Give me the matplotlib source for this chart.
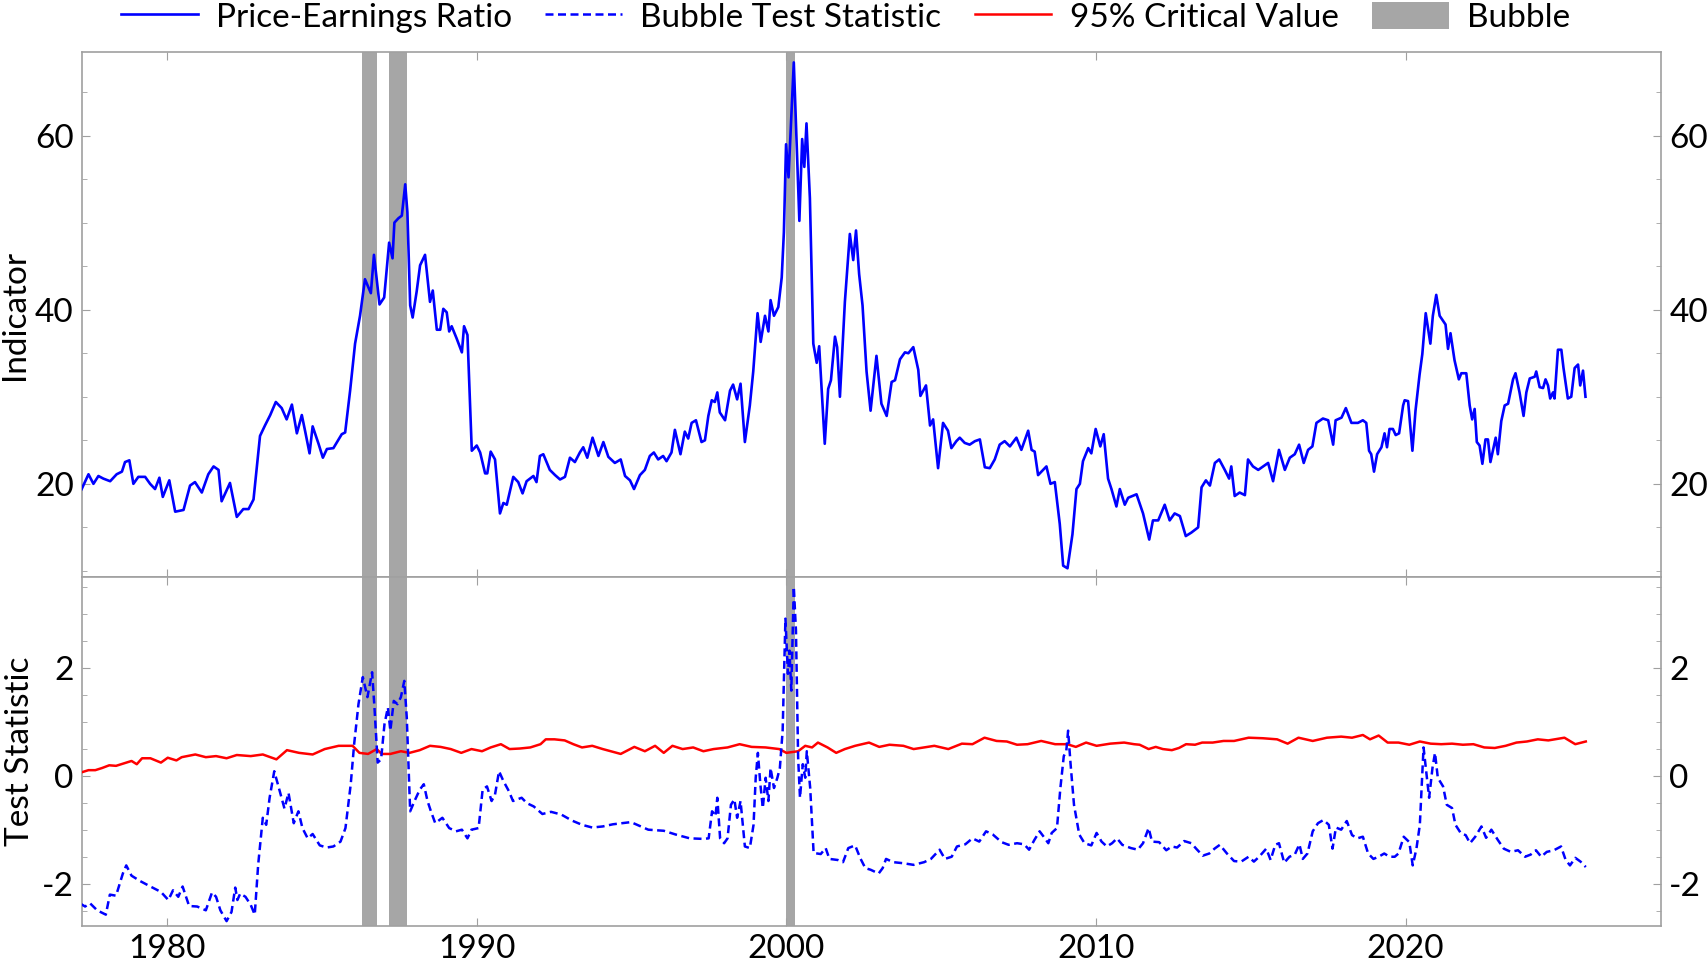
import matplotlib
matplotlib.use("Agg")
import matplotlib.pyplot as plt
from matplotlib.lines import Line2D
from matplotlib.patches import Patch
from matplotlib.ticker import MultipleLocator

plt.rcParams['font.family'] = ['Lato', 'DejaVu Sans']
plt.rcParams['axes.unicode_minus'] = False

# bubble periods (decimal years)
bubble_start = [1986.28, 1987.17, 2000.00]
bubble_end = [1986.77, 1987.76, 2000.27]

# price-earnings ratio, (year, value)
pe_points = [
    (1977.24, 19.4), (1977.46, 21.1), (1977.62, 20.0), (1977.78, 20.9), (1977.94, 20.6), (1978.16, 20.3),
    (1978.37, 21.1), (1978.54, 21.4), (1978.64, 22.5), (1978.78, 22.7), (1978.91, 20.0), (1979.07, 20.8),
    (1979.29, 20.8), (1979.45, 20.0), (1979.61, 19.4), (1979.75, 20.7), (1979.86, 18.5), (1980.07, 20.4),
    (1980.26, 16.8), (1980.53, 17.0), (1980.74, 19.8), (1980.90, 20.2), (1981.12, 19.0), (1981.33, 21.1),
    (1981.50, 22.0), (1981.66, 21.6), (1981.76, 18.0), (1982.03, 20.1), (1982.25, 16.2), (1982.46, 17.1),
    (1982.63, 17.1), (1982.79, 18.2), (1983.00, 25.5), (1983.16, 26.7), (1983.33, 27.9), (1983.51, 29.4),
    (1983.70, 28.7), (1983.86, 27.4), (1984.03, 29.1), (1984.19, 25.8), (1984.35, 27.9), (1984.46, 26.0),
    (1984.60, 23.5), (1984.70, 26.6), (1984.89, 24.6), (1985.03, 23.0), (1985.16, 24.0), (1985.37, 24.1),
    (1985.64, 25.7), (1985.75, 25.9), (1985.91, 30.7), (1986.07, 36.1), (1986.23, 39.3), (1986.39, 43.5),
    (1986.58, 41.9), (1986.68, 46.3), (1986.86, 40.6), (1987.01, 41.4), (1987.17, 47.7), (1987.28, 45.9),
    (1987.34, 50.0), (1987.47, 50.5), (1987.58, 50.8), (1987.69, 54.4), (1987.76, 51.2), (1987.85, 40.5),
    (1987.93, 39.1), (1988.06, 42.1), (1988.17, 45.1), (1988.33, 46.3), (1988.49, 40.9), (1988.58, 42.2),
    (1988.71, 37.7), (1988.82, 37.7), (1988.92, 40.1), (1989.03, 39.7), (1989.11, 37.5), (1989.19, 38.1),
    (1989.35, 36.7), (1989.52, 35.1), (1989.59, 38.1), (1989.70, 37.1), (1989.84, 23.8), (1990.00, 24.4),
    (1990.11, 23.6), (1990.27, 21.2), (1990.34, 21.2), (1990.45, 23.7), (1990.59, 22.8), (1990.75, 16.6),
    (1990.86, 17.8), (1990.97, 17.6), (1991.18, 20.8), (1991.34, 20.2), (1991.48, 18.9), (1991.61, 20.3),
    (1991.83, 20.9), (1991.93, 20.2), (1992.04, 23.2), (1992.15, 23.4), (1992.36, 21.6), (1992.53, 21.0),
    (1992.69, 20.5), (1992.85, 20.8), (1993.01, 23.0), (1993.17, 22.5), (1993.33, 23.6), (1993.44, 24.2),
    (1993.57, 23.0), (1993.74, 25.3), (1993.93, 23.2), (1994.09, 24.8), (1994.25, 23.1), (1994.46, 22.4),
    (1994.65, 22.8), (1994.79, 20.9), (1994.95, 20.4), (1995.08, 19.4), (1995.27, 21.0), (1995.43, 21.6),
    (1995.59, 23.2), (1995.72, 23.6), (1995.86, 22.8), (1996.02, 23.2), (1996.13, 22.6), (1996.29, 23.6),
    (1996.40, 26.2), (1996.58, 23.4), (1996.72, 26.0), (1996.83, 25.2), (1996.94, 27.0), (1997.08, 27.3),
    (1997.26, 24.8), (1997.37, 25.0), (1997.48, 27.8), (1997.59, 29.6), (1997.69, 29.4), (1997.77, 30.5),
    (1997.85, 28.2), (1998.02, 27.3), (1998.18, 30.7), (1998.28, 31.4), (1998.41, 29.7), (1998.52, 31.5),
    (1998.66, 24.8), (1998.82, 29.0), (1998.93, 32.9), (1999.07, 39.6), (1999.17, 36.3), (1999.31, 39.3),
    (1999.42, 37.5), (1999.49, 41.1), (1999.60, 39.3), (1999.74, 40.3), (1999.85, 43.7), (1999.92, 48.9),
    (1999.99, 59.0), (2000.07, 55.2), (2000.24, 68.4), (2000.42, 50.2), (2000.51, 59.6), (2000.58, 56.4),
    (2000.65, 61.4), (2000.76, 52.8), (2000.87, 36.1), (2000.98, 33.9), (2001.06, 35.8), (2001.24, 24.6),
    (2001.35, 30.9), (2001.44, 31.9), (2001.57, 36.9), (2001.64, 35.7), (2001.73, 30.0), (2001.89, 40.9),
    (2002.05, 48.7), (2002.16, 45.7), (2002.25, 49.1), (2002.35, 44.1), (2002.46, 40.5), (2002.59, 32.9),
    (2002.72, 28.4), (2002.91, 34.7), (2003.07, 29.2), (2003.24, 27.8), (2003.40, 31.7), (2003.51, 31.9),
    (2003.67, 34.3), (2003.83, 35.1), (2003.94, 35.0), (2004.10, 35.7), (2004.26, 33.1), (2004.33, 30.1),
    (2004.51, 31.3), (2004.64, 26.7), (2004.74, 27.4), (2004.90, 21.8), (2005.06, 27.0), (2005.22, 26.1),
    (2005.33, 24.1), (2005.49, 24.9), (2005.60, 25.3), (2005.76, 24.7), (2005.92, 24.5), (2006.09, 24.9),
    (2006.25, 25.1), (2006.41, 21.9), (2006.57, 21.8), (2006.73, 22.8), (2006.89, 24.5), (2007.05, 24.9),
    (2007.22, 24.3), (2007.43, 25.3), (2007.59, 23.9), (2007.81, 26.1), (2007.92, 23.9), (2008.02, 23.7),
    (2008.13, 21.0), (2008.29, 21.6), (2008.40, 22.0), (2008.53, 20.0), (2008.67, 20.2), (2008.83, 15.4),
    (2008.94, 10.6), (2009.08, 10.3), (2009.24, 14.2), (2009.37, 19.4), (2009.48, 20.0), (2009.58, 22.6),
    (2009.75, 24.1), (2009.85, 23.5), (2009.99, 26.3), (2010.14, 24.3), (2010.25, 25.7), (2010.39, 20.6),
    (2010.50, 19.4), (2010.66, 17.4), (2010.77, 19.4), (2010.93, 17.6), (2011.04, 18.4), (2011.31, 18.8),
    (2011.52, 16.6), (2011.72, 13.6), (2011.84, 15.8), (2012.01, 15.8), (2012.22, 17.6), (2012.38, 15.8),
    (2012.54, 16.6), (2012.71, 16.3), (2012.90, 14.0), (2013.08, 14.4), (2013.30, 15.0), (2013.41, 19.6),
    (2013.55, 20.4), (2013.68, 19.8), (2013.84, 22.4), (2013.98, 22.8), (2014.16, 21.6), (2014.30, 20.6),
    (2014.37, 22.0), (2014.48, 18.6), (2014.64, 19.0), (2014.81, 18.7), (2014.91, 22.8), (2015.07, 22.0),
    (2015.24, 21.6), (2015.40, 22.0), (2015.56, 22.4), (2015.72, 20.3), (2015.91, 23.9), (2016.10, 21.6),
    (2016.26, 23.0), (2016.42, 23.4), (2016.56, 24.5), (2016.71, 22.4), (2016.85, 23.9), (2016.99, 24.3),
    (2017.12, 27.0), (2017.33, 27.5), (2017.50, 27.3), (2017.66, 24.5), (2017.74, 27.3), (2017.93, 27.6),
    (2018.07, 28.7), (2018.25, 27.0), (2018.46, 27.0), (2018.62, 27.3), (2018.73, 27.0), (2018.82, 23.8),
    (2018.89, 23.4), (2018.98, 21.4), (2019.08, 23.4), (2019.22, 24.2), (2019.32, 25.8), (2019.40, 24.2),
    (2019.48, 26.3), (2019.59, 26.3), (2019.68, 25.6), (2019.79, 25.8), (2019.92, 29.0), (2019.97, 29.6),
    (2020.08, 29.5), (2020.22, 23.8), (2020.32, 28.4), (2020.45, 32.5), (2020.54, 34.9), (2020.65, 39.6),
    (2020.80, 36.1), (2020.88, 39.3), (2020.99, 41.7), (2021.10, 39.3), (2021.29, 38.3), (2021.37, 35.5),
    (2021.45, 37.3), (2021.58, 34.2), (2021.72, 32.0), (2021.80, 32.7), (2021.96, 32.7), (2022.07, 29.0),
    (2022.15, 27.4), (2022.23, 28.6), (2022.30, 24.8), (2022.39, 24.4), (2022.48, 22.3), (2022.58, 25.1),
    (2022.66, 25.1), (2022.74, 22.5), (2022.91, 25.3), (2022.98, 23.4), (2023.09, 27.2), (2023.20, 29.0),
    (2023.31, 29.2), (2023.47, 32.0), (2023.55, 32.7), (2023.68, 30.5), (2023.81, 27.8), (2023.90, 30.5),
    (2024.01, 32.1), (2024.17, 32.3), (2024.22, 32.9), (2024.33, 31.1), (2024.44, 31.0), (2024.52, 32.0),
    (2024.60, 31.3), (2024.67, 29.8), (2024.76, 30.5), (2024.81, 29.8), (2024.92, 35.4), (2025.03, 35.4),
    (2025.10, 33.3), (2025.24, 29.8), (2025.35, 30.0), (2025.46, 33.3), (2025.57, 33.7), (2025.64, 31.3),
    (2025.73, 33.0), (2025.81, 30.0),
]

# bubble test statistic
stat_points = [
    (1977.18, -2.35), (1977.35, -2.41), (1977.51, -2.35), (1977.74, -2.48), (1978.02, -2.56), (1978.15, -2.19),
    (1978.35, -2.21), (1978.57, -1.80), (1978.68, -1.65), (1978.85, -1.84), (1979.13, -1.94), (1979.46, -2.04),
    (1979.80, -2.14), (1980.04, -2.29), (1980.19, -2.11), (1980.36, -2.23), (1980.50, -2.04), (1980.71, -2.40),
    (1980.97, -2.41), (1981.25, -2.48), (1981.45, -2.15), (1981.58, -2.23), (1981.72, -2.48), (1981.92, -2.68),
    (1982.08, -2.51), (1982.20, -2.06), (1982.27, -2.29), (1982.36, -2.17), (1982.53, -2.23), (1982.70, -2.38),
    (1982.83, -2.56), (1982.94, -1.64), (1983.09, -0.77), (1983.20, -0.90), (1983.31, -0.40), (1983.46, 0.09),
    (1983.61, -0.22), (1983.79, -0.60), (1983.92, -0.31), (1984.09, -0.87), (1984.24, -0.65), (1984.37, -0.96),
    (1984.54, -1.15), (1984.70, -1.07), (1984.93, -1.28), (1985.15, -1.32), (1985.37, -1.30), (1985.60, -1.21),
    (1985.76, -0.96), (1985.93, -0.15), (1986.04, 0.59), (1986.18, 1.33), (1986.32, 1.83), (1986.47, 1.46),
    (1986.54, 1.67), (1986.62, 1.92), (1986.69, 1.33), (1986.80, 0.25), (1986.91, 0.31), (1987.02, 0.96),
    (1987.13, 1.27), (1987.21, 0.84), (1987.32, 1.39), (1987.44, 1.33), (1987.55, 1.46), (1987.66, 1.76),
    (1987.74, 1.08), (1987.85, -0.65), (1987.99, -0.46), (1988.16, -0.25), (1988.29, -0.15), (1988.41, -0.46),
    (1988.52, -0.65), (1988.66, -0.87), (1988.89, -0.77), (1989.11, -0.96), (1989.33, -1.02), (1989.52, -0.99),
    (1989.70, -1.15), (1989.83, -0.99), (1990.06, -0.96), (1990.19, -0.25), (1990.33, -0.19), (1990.48, -0.46),
    (1990.59, -0.34), (1990.72, 0.09), (1990.86, -0.09), (1991.04, -0.28), (1991.17, -0.46), (1991.45, -0.40),
    (1991.62, -0.50), (1991.84, -0.56), (1992.12, -0.70), (1992.40, -0.66), (1992.73, -0.71), (1993.07, -0.82),
    (1993.40, -0.90), (1993.73, -0.95), (1994.07, -0.93), (1994.40, -0.89), (1994.98, -0.85), (1995.54, -0.99),
    (1996.04, -1.01), (1996.43, -1.08), (1996.88, -1.15), (1997.32, -1.16), (1997.49, -1.15), (1997.60, -0.65),
    (1997.71, -0.74), (1997.77, -0.40), (1997.86, -1.15), (1997.99, -1.24), (1998.10, -1.15), (1998.21, -0.53),
    (1998.32, -0.43), (1998.41, -0.77), (1998.52, -0.46), (1998.66, -1.30), (1998.82, -1.33), (1998.94, -0.90),
    (1999.01, -0.03), (1999.08, 0.43), (1999.16, -0.15), (1999.24, -0.59), (1999.33, -0.03), (1999.42, -0.46),
    (1999.49, 0.15), (1999.60, -0.22), (1999.71, -0.03), (1999.79, 0.15), (1999.88, 0.84), (1999.97, 2.91),
    (2000.05, 1.89), (2000.10, 2.32), (2000.16, 1.58), (2000.24, 3.50), (2000.31, 2.69), (2000.38, 0.34),
    (2000.44, -0.40), (2000.53, 0.22), (2000.61, -0.03), (2000.66, 0.46), (2000.77, -0.22), (2000.88, -1.42),
    (2001.11, -1.44), (2001.27, -1.33), (2001.39, -1.53), (2001.66, -1.55), (2001.83, -1.59), (2002.00, -1.33),
    (2002.22, -1.28), (2002.39, -1.52), (2002.55, -1.70), (2002.72, -1.73), (2002.98, -1.80), (2003.11, -1.70),
    (2003.22, -1.53), (2003.45, -1.59), (2003.78, -1.61), (2004.11, -1.64), (2004.45, -1.59), (2004.67, -1.53),
    (2004.95, -1.36), (2005.12, -1.53), (2005.34, -1.49), (2005.51, -1.30), (2005.78, -1.26), (2006.01, -1.15),
    (2006.23, -1.21), (2006.45, -1.02), (2006.67, -1.08), (2006.95, -1.22), (2007.18, -1.27), (2007.45, -1.24),
    (2007.68, -1.26), (2007.84, -1.36), (2008.01, -1.18), (2008.18, -1.02), (2008.35, -1.15), (2008.46, -1.24),
    (2008.57, -1.05), (2008.74, -0.96), (2008.85, -0.22), (2008.96, 0.37), (2009.04, 0.46), (2009.10, 0.84),
    (2009.18, 0.22), (2009.29, -0.53), (2009.46, -1.08), (2009.63, -1.24), (2009.85, -1.28), (2010.02, -1.05),
    (2010.18, -1.21), (2010.35, -1.30), (2010.52, -1.24), (2010.68, -1.15), (2010.85, -1.27), (2011.13, -1.33),
    (2011.35, -1.36), (2011.52, -1.24), (2011.70, -0.96), (2011.81, -1.21), (2012.04, -1.22), (2012.27, -1.37),
    (2012.45, -1.30), (2012.62, -1.32), (2012.85, -1.20), (2013.08, -1.24), (2013.25, -1.35), (2013.45, -1.47),
    (2013.66, -1.43), (2013.83, -1.34), (2014.00, -1.27), (2014.23, -1.43), (2014.46, -1.57), (2014.69, -1.58),
    (2014.93, -1.49), (2015.10, -1.58), (2015.27, -1.49), (2015.50, -1.34), (2015.64, -1.55), (2015.79, -1.27),
    (2015.91, -1.24), (2016.08, -1.60), (2016.25, -1.49), (2016.42, -1.45), (2016.57, -1.26), (2016.68, -1.53),
    (2016.83, -1.43), (2017.00, -1.02), (2017.17, -0.87), (2017.35, -0.81), (2017.52, -0.90), (2017.64, -1.34),
    (2017.75, -0.95), (2017.92, -0.99), (2018.10, -0.83), (2018.27, -1.09), (2018.44, -1.15), (2018.62, -1.12),
    (2018.79, -1.43), (2018.96, -1.53), (2019.13, -1.49), (2019.31, -1.43), (2019.48, -1.49), (2019.65, -1.49),
    (2019.77, -1.43), (2019.94, -1.12), (2020.12, -1.22), (2020.23, -1.65), (2020.35, -1.34), (2020.46, -0.90),
    (2020.58, 0.53), (2020.67, 0.06), (2020.76, -0.40), (2020.87, 0.16), (2020.95, 0.43), (2021.04, -0.03),
    (2021.21, -0.19), (2021.33, -0.53), (2021.50, -0.59), (2021.61, -0.90), (2021.79, -1.06), (2021.94, -1.09),
    (2022.08, -1.24), (2022.25, -1.12), (2022.45, -0.93), (2022.60, -1.14), (2022.77, -0.99), (2022.98, -1.18),
    (2023.17, -1.34), (2023.40, -1.40), (2023.63, -1.37), (2023.86, -1.49), (2024.04, -1.45), (2024.21, -1.37),
    (2024.38, -1.49), (2024.56, -1.40), (2024.79, -1.37), (2025.02, -1.30), (2025.17, -1.55), (2025.31, -1.65),
    (2025.48, -1.51), (2025.65, -1.58), (2025.82, -1.68),
]

# 95% critical value
cv_points = [
    (1977.18, 0.06), (1977.46, 0.11), (1977.68, 0.11), (1977.90, 0.15), (1978.13, 0.20), (1978.35, 0.19),
    (1978.57, 0.23), (1978.85, 0.28), (1979.02, 0.22), (1979.19, 0.33), (1979.46, 0.33), (1979.80, 0.25),
    (1980.02, 0.34), (1980.30, 0.29), (1980.47, 0.35), (1980.91, 0.40), (1981.25, 0.35), (1981.58, 0.37),
    (1981.92, 0.33), (1982.25, 0.39), (1982.70, 0.37), (1983.09, 0.40), (1983.53, 0.31), (1983.87, 0.48),
    (1984.26, 0.43), (1984.70, 0.40), (1985.09, 0.50), (1985.54, 0.56), (1985.99, 0.56), (1986.21, 0.43),
    (1986.49, 0.41), (1986.77, 0.50), (1986.93, 0.41), (1987.21, 0.41), (1987.55, 0.46), (1987.83, 0.43),
    (1988.16, 0.48), (1988.49, 0.56), (1988.83, 0.54), (1989.16, 0.50), (1989.50, 0.43), (1989.83, 0.50),
    (1990.17, 0.46), (1990.45, 0.53), (1990.78, 0.59), (1991.06, 0.50), (1991.39, 0.51), (1991.73, 0.53),
    (1992.06, 0.59), (1992.23, 0.68), (1992.51, 0.68), (1992.84, 0.66), (1993.12, 0.59), (1993.40, 0.53),
    (1993.73, 0.56), (1994.07, 0.50), (1994.40, 0.45), (1994.65, 0.41), (1995.09, 0.54), (1995.43, 0.46),
    (1995.76, 0.56), (1996.04, 0.43), (1996.32, 0.56), (1996.65, 0.50), (1996.99, 0.53), (1997.32, 0.46),
    (1997.65, 0.50), (1998.10, 0.53), (1998.49, 0.59), (1998.88, 0.54), (1999.33, 0.53), (1999.77, 0.50),
    (2000.00, 0.43), (2000.38, 0.46), (2000.61, 0.56), (2000.83, 0.53), (2001.02, 0.62), (2001.33, 0.53),
    (2001.61, 0.43), (2001.89, 0.50), (2002.22, 0.56), (2002.67, 0.62), (2003.00, 0.54), (2003.33, 0.58),
    (2003.78, 0.56), (2004.11, 0.50), (2004.45, 0.53), (2004.78, 0.56), (2005.23, 0.50), (2005.67, 0.60),
    (2006.01, 0.59), (2006.40, 0.71), (2006.79, 0.65), (2007.12, 0.64), (2007.45, 0.58), (2007.79, 0.59),
    (2008.23, 0.65), (2008.68, 0.59), (2009.07, 0.59), (2009.35, 0.54), (2009.68, 0.62), (2010.02, 0.56),
    (2010.46, 0.60), (2010.91, 0.62), (2011.23, 0.59), (2011.41, 0.58), (2011.70, 0.50), (2011.93, 0.54),
    (2012.16, 0.50), (2012.45, 0.48), (2012.68, 0.52), (2012.91, 0.59), (2013.20, 0.58), (2013.43, 0.62),
    (2013.77, 0.62), (2014.12, 0.65), (2014.46, 0.65), (2014.93, 0.71), (2015.39, 0.70), (2015.85, 0.68),
    (2016.19, 0.60), (2016.54, 0.71), (2017.00, 0.65), (2017.46, 0.71), (2017.92, 0.73), (2018.27, 0.71),
    (2018.62, 0.76), (2018.85, 0.68), (2019.13, 0.75), (2019.42, 0.62), (2019.77, 0.62), (2020.12, 0.58),
    (2020.46, 0.64), (2020.81, 0.60), (2021.15, 0.59), (2021.50, 0.60), (2021.85, 0.58), (2022.19, 0.59),
    (2022.54, 0.53), (2022.88, 0.52), (2023.23, 0.56), (2023.58, 0.62), (2023.92, 0.64), (2024.27, 0.68),
    (2024.61, 0.66), (2025.13, 0.71), (2025.48, 0.59), (2025.82, 0.64),
]

pe_year, pe_ratio = zip(*pe_points)
stat_year, stat_value = zip(*stat_points)
cv_year, cv_value = zip(*cv_points)

year_ticks = [1980, 1990, 2000, 2010, 2020]

band_color = '#a6a6a6'
spine_color = '#a0a0a0'
dash = (0, (3.2, 1.8))

fig = plt.figure(figsize=(17.08, 9.66), dpi=100)
ax_top = fig.add_axes([0.048, 0.4027, 0.9245, 0.5435])
ax_bot = fig.add_axes([0.048, 0.0414, 0.9245, 0.3613], sharex=ax_top)

for ax in (ax_top, ax_bot):
    for s, e in zip(bubble_start, bubble_end):
        ax.axvspan(s, e, color=band_color, lw=0, zorder=1)
    for sp in ax.spines.values():
        sp.set_color(spine_color)
        sp.set_linewidth(1.2)
    ax.tick_params(which='both', direction='in', top=True, right=True, labelright=True,
                   colors=spine_color, labelcolor='black', labelsize=24)
    ax.tick_params(which='major', length=6, pad=6)
    ax.tick_params(which='minor', length=3.5)

ax_top.plot(pe_year, pe_ratio, color='blue', lw=1.9, zorder=3)
ax_bot.plot(cv_year, cv_value, color='red', lw=1.8, zorder=3)
ax_bot.plot(stat_year, stat_value, color='blue', lw=1.8, linestyle=dash, zorder=4)

ax_top.set_xlim(1977.25, 2028.25)
ax_top.set_xticks(year_ticks)
ax_top.tick_params(axis='x', labelbottom=False)

ax_top.set_ylim(9.3, 69.6)
ax_top.yaxis.set_major_locator(MultipleLocator(20))
ax_top.yaxis.set_minor_locator(MultipleLocator(5))
ax_bot.set_ylim(-2.77, 3.68)
ax_bot.yaxis.set_major_locator(MultipleLocator(2))
ax_bot.yaxis.set_minor_locator(MultipleLocator(0.5))

ax_top.set_ylabel('Indicator', fontsize=24)
ax_bot.set_ylabel('Test Statistic', fontsize=24)
ax_top.yaxis.set_label_coords(-0.033, 0.5)
ax_bot.yaxis.set_label_coords(-0.030, 0.5)

handles = [
    Line2D([], [], color='blue', lw=1.9),
    Line2D([], [], color='blue', lw=1.8, linestyle=dash),
    Line2D([], [], color='red', lw=1.8),
    Patch(facecolor=band_color, edgecolor='none'),
]
labels = ['Price-Earnings Ratio', 'Bubble Test Statistic', '95% Critical Value', 'Bubble']
fig.legend(handles, labels, loc='center', bbox_to_anchor=(0.495, 0.982), ncol=4, frameon=False,
           fontsize=24, handlelength=2.3, handleheight=0.9, handletextpad=0.55, columnspacing=1.0)

fig.savefig('out.png', dpi=100)
